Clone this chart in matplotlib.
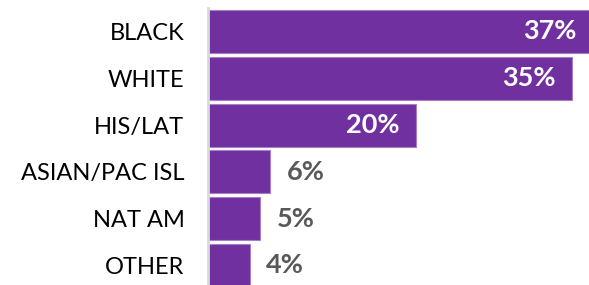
import matplotlib.pyplot as plt

# categories and shares (percent)
groups = ['BLACK', 'WHITE', 'HIS/LAT', 'ASIAN/PAC ISL', 'NAT AM', 'OTHER']
shares = [37, 35, 20, 6, 5, 4]
inside = [True, True, True, False, False, False]

purple = '#7030A0'
font = 'Lato'

fig = plt.figure(figsize=(5.89, 2.85), dpi=100)
ax = fig.add_axes([208/589, 0, 1 - 208/589, 1 - 8/285])

pos = range(len(groups))
ax.barh(pos, shares, height=0.92, color=purple, edgecolor='#a77fc4', linewidth=0.8)

ax.set_xlim(0, 36.6)
ax.set_ylim(5.417, -0.502)

ax.set_yticks(list(pos))
ax.set_yticklabels(groups, fontsize=17, family=font, color='black')
ax.tick_params(axis='y', length=0, pad=17)
ax.set_xticks([])

for s in ['top', 'right', 'bottom']:
    ax.spines[s].set_visible(False)
ax.spines['left'].set_color('#d9d9d9')
ax.spines['left'].set_linewidth(2)

for i, (v, ins) in enumerate(zip(shares, inside)):
    if ins:
        ax.annotate(f'{v}%', (v, i), xytext=(-12, 0), textcoords='offset points',
                    ha='right', va='center', fontsize=19.5, fontweight='bold',
                    family=font, color='white', annotation_clip=False)
    else:
        ax.annotate(f'{v}%', (v, i), xytext=(12, 0), textcoords='offset points',
                    ha='left', va='center', fontsize=19.5, fontweight='bold',
                    family=font, color='#595959', annotation_clip=False)

fig.savefig('out.png', dpi=100)
